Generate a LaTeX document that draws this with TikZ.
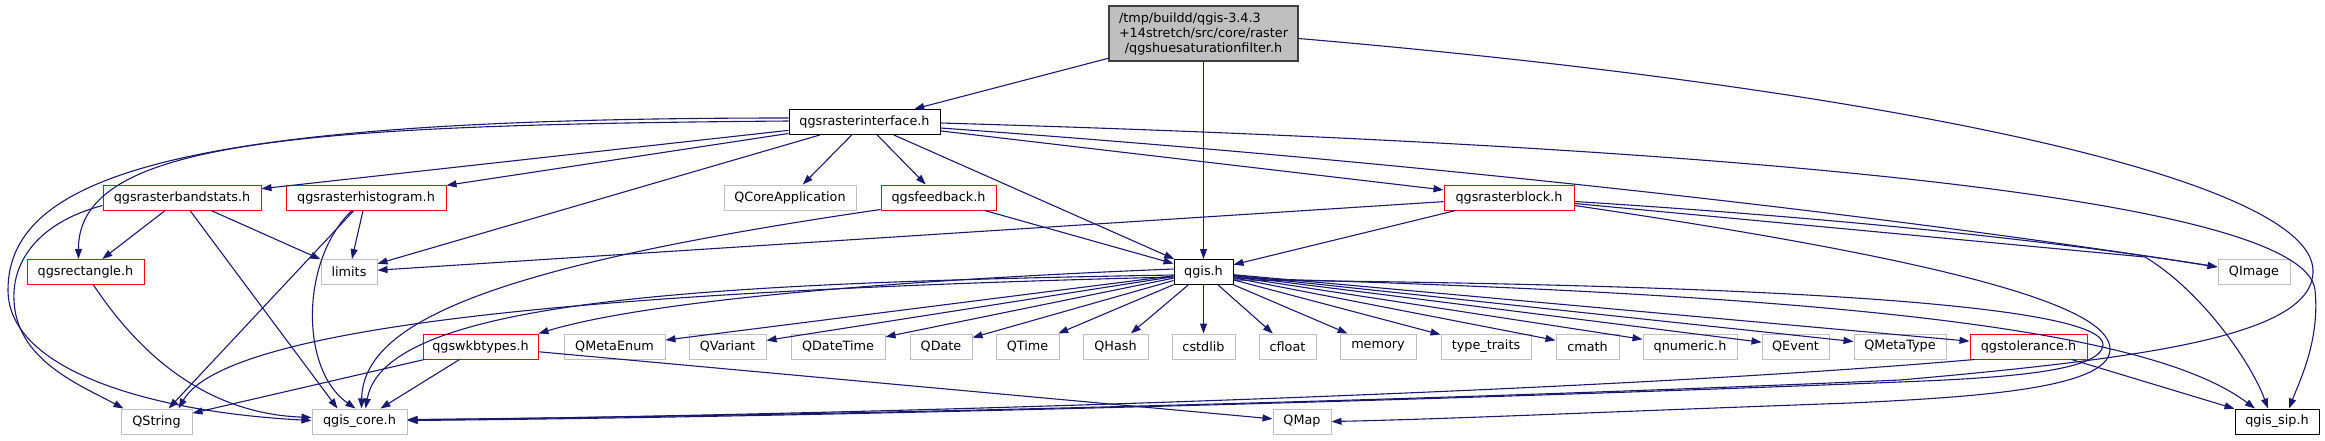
\documentclass[tikz,border=0pt]{standalone}
\usepackage{fontspec}
\setmainfont{DejaVu Sans}
\usetikzlibrary{arrows.meta,calc}
\definecolor{edgec}{HTML}{191970}
\definecolor{extc}{HTML}{BFBFBF}
\definecolor{mainfill}{HTML}{BFBFBF}
\definecolor{mainbd}{HTML}{404040}
\begin{document}
\begin{tikzpicture}[x=1pt,y=-1pt,
  box/.style={draw, rectangle, inner sep=0pt, minimum height=25pt, line width=1pt, font=\fontsize{12.8}{15}\selectfont, text=black},
  blk/.style={box, draw=black},
  redn/.style={box, draw=red},
  extn/.style={box, draw=extc},
  e/.style={draw=edgec, line width=1.1pt, -{Triangle[length=10pt,width=7pt]}},
]
\useasboundingbox (0,0) rectangle (2325,440);

% nodes
\node[box, draw=mainbd, fill=mainfill, line width=1.3pt, minimum width=189pt, minimum height=55pt, align=center] (main) at (1203.5,33.5)
  {\rlap{/tmp/buildd/qgis-3.4.3}\phantom{+14stretch/src/core/raster}\\+14stretch/src/core/raster\\/qgshuesaturationfilter.h};
\node[blk, minimum width=151pt] (RI) at (864.5,122) {qgsrasterinterface.h};

\node[redn, minimum width=158pt] (BS) at (182,197.5) {qgsrasterbandstats.h};
\node[redn, minimum width=160pt] (HI) at (366,197.5) {qgsrasterhistogram.h};
\node[extn, minimum width=132pt] (QCA) at (790,197.5) {QCoreApplication};
\node[redn, minimum width=115pt] (FB) at (938.5,197.5) {qgsfeedback.h};
\node[redn, minimum width=130pt] (RB) at (1509,197.5) {qgsrasterblock.h};

\node[redn, minimum width=117pt] (RE) at (85.5,272) {qgsrectangle.h};
\node[extn, minimum width=56pt] (LIM) at (349,272) {limits};
\node[blk, minimum width=59pt] (QGIS) at (1203.5,272) {qgis.h};
\node[extn, minimum width=72pt] (QIM) at (2254,272) {QImage};

\node[redn, minimum width=115pt] (W) at (480.5,346.5) {qgswkbtypes.h};
\node[extn, minimum width=101pt] (QME) at (614.5,346.5) {QMetaEnum};
\node[extn, minimum width=77pt] (QVA) at (727.5,346.5) {QVariant};
\node[extn, minimum width=94pt] (QDT) at (838,346.5) {QDateTime};
\node[extn, minimum width=62pt] (QDA) at (941,346.5) {QDate};
\node[extn, minimum width=63pt] (QTI) at (1027.5,346.5) {QTime};
\node[extn, minimum width=65pt] (QHA) at (1115.5,346.5) {QHash};
\node[extn, minimum width=63pt] (CST) at (1203.5,346.5) {cstdlib};
\node[extn, minimum width=57pt] (CFL) at (1287.5,346.5) {cfloat};
\node[extn, minimum width=76pt] (MEM) at (1378,346.5) {memory};
\node[extn, minimum width=90pt] (TT) at (1486,346.5) {type\_traits};
\node[extn, minimum width=63pt] (CMA) at (1587.5,346.5) {cmath};
\node[extn, minimum width=94pt] (QNU) at (1690,346.5) {qnumeric.h};
\node[extn, minimum width=67pt] (QEV) at (1795.5,346.5) {QEvent};
\node[extn, minimum width=92pt] (QMT) at (1900,346.5) {QMetaType};
\node[redn, minimum width=117pt] (TOL) at (2028.5,346.5) {qgstolerance.h};

\node[extn, minimum width=71pt] (QST) at (156.5,421.5) {QString};
\node[extn, minimum width=95pt] (QC) at (359.5,421.5) {qgis\_core.h};
\node[extn, minimum width=58pt] (QMAP) at (1302,421.5) {QMap};
\node[blk, minimum width=84pt] (SIP) at (2277,421.5) {qgis\_sip.h};

% edges from main
\draw[e] (main) -- (RI);
\draw[e] (main) -- (QGIS);
\draw[e] ($(main.east)+(0,5)$) .. controls (1900,90) and (2310,180) .. (2313,270)
   .. controls (2315,335) and (2150,358) .. (1900,380)
   .. controls (1400,402) and (800,416) .. ($(QC.east)+(0,-2)$);

% edges from qgsrasterinterface.h
\draw[e] ($(RI.west)+(0,-1)$) .. controls (300,125) and (78,140) .. ($(RE.north)+(-7,0)$);
\draw[e] ($(RI.west)+(0,-4)$) .. controls (200,118) and (8,170) .. (8,290)
   .. controls (8,370) and (150,412) .. ($(QC.west)+(0,-1)$);
\draw[e] (RI) -- (BS);
\draw[e] (RI) -- (HI);
\draw[e] (RI) -- (LIM);
\draw[e] (RI) -- (QCA);
\draw[e] (RI) -- (FB);
\draw[e] (RI) -- (QGIS);
\draw[e] (RI) -- (RB);
\draw[e] ($(RI.east)+(0,6)$) .. controls (1500,168) and (1950,225) .. ($(QIM.west)+(0,-5)$);
\draw[e] ($(RI.east)+(0,1)$) .. controls (1700,145) and (2305,195) .. (2315,290)
   .. controls (2320,340) and (2300,380) .. ($(SIP.north)+(12,0)$);

% qgsrasterbandstats.h
\draw[e] (BS) -- (RE);
\draw[e] ($(BS.west)+(0,8)$) .. controls (40,222) and (12,260) .. (14,300)
   .. controls (16,360) and (80,385) .. ($(QST.north)+(-33,0)$);
\draw[e] ($(BS.south)+(8,0)$) -- ($(QC.north)+(-22,0)$);
\draw[e] (BS) -- (LIM);

% qgsrasterhistogram.h
\draw[e] (HI) -- (LIM);
\draw[e] (HI) -- (QST);
\draw[e] ($(HI.south)+(-14,0)$) .. controls (300,260) and (300,370) .. ($(QC.north)+(-4,0)$);

% qgsrectangle.h
\draw[e] ($(RE.south)+(8,0)$) .. controls (150,370) and (220,414) .. ($(QC.west)+(0,-4)$);

% qgsfeedback.h
\draw[e] (FB) -- (QGIS);
\draw[e] ($(FB.south west)+(0,-1)$) .. controls (500,265) and (363,320) .. ($(QC.north)+(2,0)$);

% qgsrasterblock.h
\draw[e] (RB) -- (QGIS);
\draw[e] (RB) -- (LIM);
\draw[e] ($(RB.east)+(0,4)$) .. controls (1900,222) and (2100,248) .. ($(QIM.west)+(0,-5)$);
\draw[e] ($(RB.east)+(0,6)$) -- (2145,257) .. controls (2200,290) and (2250,360) .. ($(SIP.north)+(-9,0)$);
\draw[e] ($(RB.east)+(0,8)$) .. controls (1980,265) and (2112,310) .. (2110,350)
   .. controls (2108,388) and (1980,397) .. (1850,403)
   .. controls (1600,412) and (1450,419) .. (QMAP.east);

% qgis.h
\draw[e] ($(QGIS.west)+(0,-3)$) .. controls (900,280) and (650,300) .. (W.north east);
\draw[e] (QGIS) -- (QME);
\draw[e] (QGIS) -- (QVA);
\draw[e] (QGIS) -- (QDT);
\draw[e] (QGIS) -- (QDA);
\draw[e] (QGIS) -- (QTI);
\draw[e] (QGIS) -- (QHA);
\draw[e] (QGIS) -- (CST);
\draw[e] (QGIS) -- (CFL);
\draw[e] (QGIS) -- (MEM);
\draw[e] (QGIS) -- (TT);
\draw[e] (QGIS) -- (CMA);
\draw[e] (QGIS) -- (QNU);
\draw[e] (QGIS) -- (QEV);
\draw[e] (QGIS) -- (QMT);
\draw[e] (QGIS) -- (TOL);
\draw[e] ($(QGIS.east)+(0,6)$) .. controls (1850,295) and (2150,330) .. ($(SIP.north)+(-22,0)$);
\draw[e] ($(QGIS.west)+(0,3)$) .. controls (700,283) and (385,300) .. ($(QC.north)+(6,0)$);
\draw[e] ($(QGIS.west)+(0,5)$) .. controls (650,290) and (230,320) .. ($(QST.north)+(22,0)$);
\draw[e] ($(QGIS.east)+(0,8)$) .. controls (1850,285) and (2105,310) .. (2103,345)
   .. controls (2101,372) and (2000,378) .. (1900,382)
   .. controls (1400,402) and (800,417) .. ($(QC.east)+(0,-1)$);

% qgswkbtypes.h
\draw[e] (W) -- (QST);
\draw[e] (W) -- (QC);
\draw[e] (W) -- (QMAP);

% qgstolerance.h
\draw[e] ($(TOL.south west)+(5,0)$) .. controls (1600,392) and (900,414) .. ($(QC.east)+(0,-1.5)$);
\draw[e] (TOL) -- (SIP);
\end{tikzpicture}
\end{document}
